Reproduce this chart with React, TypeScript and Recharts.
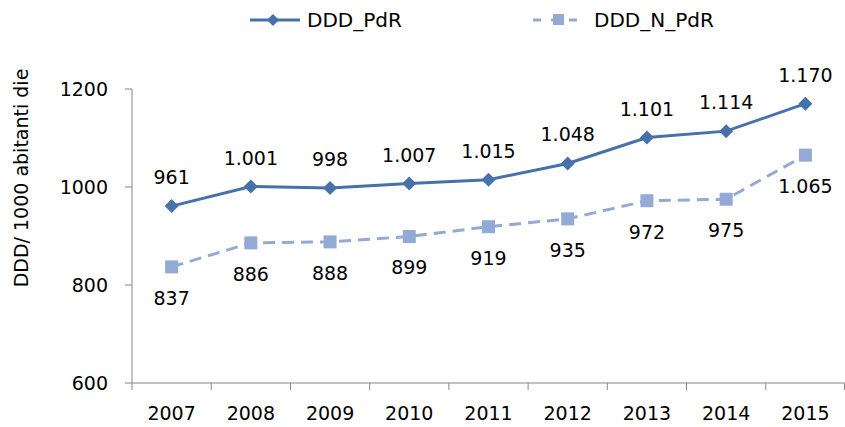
import { CartesianGrid, Line, LineChart, LabelList, XAxis, YAxis } from "recharts";

const years = ["2007", "2008", "2009", "2010", "2011", "2012", "2013", "2014", "2015"];
const dddPdR = [961, 1001, 998, 1007, 1015, 1048, 1101, 1114, 1170];
const dddNPdR = [837, 886, 888, 899, 919, 935, 972, 975, 1065];
const yTicks = [600, 800, 1000, 1200];

const data = years.map((year, i) => ({ year, pdr: dddPdR[i], npdr: dddNPdR[i] }));

const darkBlue = "#4671AB";
const lightBlue = "#94AAD6";
const font = "'DejaVu Sans', sans-serif";
const W = 845;
const H = 427;
const axisLeft = 132;
const halfBand = (W - axisLeft) / years.length / 2;

const fmt = (v: number) => v.toLocaleString("it-IT");

const Diamond = (props: any) => {
  const { cx, cy } = props;
  if (cx == null || cy == null) return null;
  return <path d={`M${cx},${cy - 7}L${cx + 7},${cy}L${cx},${cy + 7}L${cx - 7},${cy}Z`} fill={darkBlue} />;
};

const Square = (props: any) => {
  const { cx, cy } = props;
  if (cx == null || cy == null) return null;
  return <rect x={cx - 6.5} y={cy - 6.5} width={13} height={13} fill={lightBlue} />;
};

const YearTick = (props: any) => {
  const { x, y, payload, index } = props;
  return (
    <g>
      <line x1={x - halfBand} x2={x - halfBand} y1={y - 8} y2={y - 1} stroke="#868686" />
      {index === years.length - 1 && (
        <line x1={x + halfBand - 0.5} x2={x + halfBand - 0.5} y1={y - 8} y2={y - 1} stroke="#868686" />
      )}
      <text x={x} y={y + 29} textAnchor="middle" fontSize={19} fontFamily={font} fill="#000">
        {payload.value}
      </text>
    </g>
  );
};

const labelAbove = (props: any) => (
  <text x={props.x} y={props.y - 29} textAnchor="middle" dominantBaseline="central" fontSize={19} fontFamily={font} fill="#000">
    {fmt(props.value)}
  </text>
);

const labelBelow = (props: any) => (
  <text x={props.x} y={props.y + 31} textAnchor="middle" dominantBaseline="central" fontSize={19} fontFamily={font} fill="#000">
    {fmt(props.value)}
  </text>
);

const App = () => {
  return (
    <div style={{ position: "absolute", left: 0, top: 0, width: W, height: H, background: "#fff" }}>
      <svg style={{ position: "absolute", left: 0, top: 0 }} width={W} height={40}>
        <line x1={250} x2={300} y1={20} y2={20} stroke={darkBlue} strokeWidth={3} />
        <path d="M273,14L279,20L273,26L267,20Z" fill={darkBlue} />
        <text x={307} y={20} dominantBaseline="central" fontSize={20} fontFamily={font} fill="#000">DDD_PdR</text>
        <line x1={533} x2={585} y1={20} y2={20} stroke={lightBlue} strokeWidth={3} strokeDasharray="8 10" />
        <rect x={553} y={14} width={11} height={11} fill={lightBlue} />
        <text x={594} y={20} dominantBaseline="central" fontSize={20} fontFamily={font} fill="#000">DDD_N_PdR</text>
      </svg>
      <LineChart width={W} height={H} data={data} margin={{ top: 89, right: 0, bottom: 0, left: 0 }}>
        <CartesianGrid horizontal={false} vertical={false} />
        <XAxis
          dataKey="year"
          axisLine={{ stroke: "#868686" }}
          tickLine={false}
          height={44}
          interval={0}
          padding={{ left: halfBand, right: halfBand }}
          tick={<YearTick />}
        />
        <YAxis
          domain={[600, 1200]}
          ticks={yTicks}
          width={axisLeft}
          axisLine={{ stroke: "#868686" }}
          tickLine={{ stroke: "#868686" }}
          tickSize={7}
          tickMargin={17}
          tick={{ fontSize: 19, fontFamily: font, fill: "#000" }}
          label={{
            content: () => (
              <text
                x={21}
                y={178}
                transform="rotate(-90 21 178)"
                textAnchor="middle"
                dominantBaseline="central"
                fontSize={19}
                fontFamily={font}
                fill="#000"
              >
                DDD/ 1000 abitanti die
              </text>
            ),
          }}
        />
        <Line
          dataKey="npdr"
          stroke={lightBlue}
          strokeWidth={3}
          strokeDasharray="12 7"
          dot={<Square />}
          activeDot={false}
          isAnimationActive={false}
        >
          <LabelList dataKey="npdr" content={labelBelow} />
        </Line>
        <Line
          dataKey="pdr"
          stroke={darkBlue}
          strokeWidth={3}
          dot={<Diamond />}
          activeDot={false}
          isAnimationActive={false}
        >
          <LabelList dataKey="pdr" content={labelAbove} />
        </Line>
      </LineChart>
    </div>
  );
};

export default App;
